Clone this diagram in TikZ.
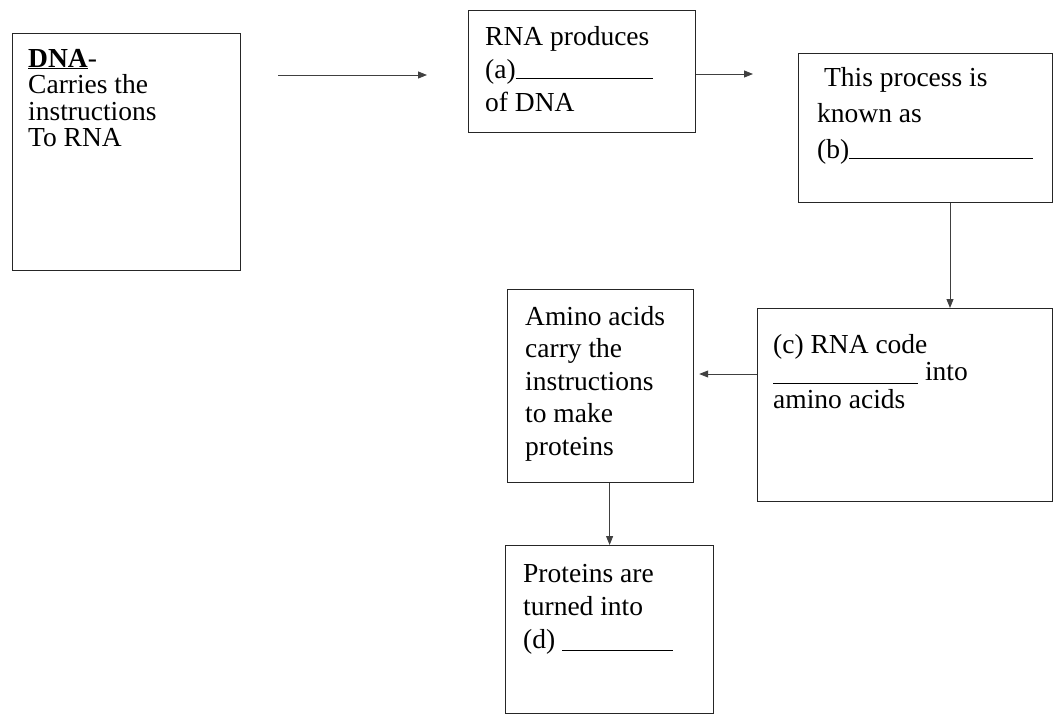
\documentclass[tikz,border=0pt]{standalone}
\usepackage{fontspec}
\setmainfont{Liberation Serif}
\usetikzlibrary{arrows.meta,calc}
\newcommand{\boxlines}[2]{\parbox[t]{260pt}{\fontsize{27.5}{#1}\selectfont\raggedright #2}}
\newcommand{\blank}[2]{\rule[#1]{#2}{0.8pt}}

\tikzset{
	box/.style={draw=black!85, line width=1.2pt, anchor=north west, inner sep=0pt},
	txt/.style={anchor=base west, inner sep=0pt},
	arr/.style={draw=black!75, line width=0.9pt, -{Triangle[length=9pt,width=7pt]}}
}

\begin{document}
\begin{tikzpicture}[x=1pt, y=-1pt]
		%%%%% START %%%%%
		\useasboundingbox (0,0) rectangle (1053,715);
		
		\node[box, minimum width=228pt, minimum height=237pt] (dna) at (12,33) {};
		\node[box, minimum width=227pt, minimum height=122pt] (rna) at (468,10) {};
		\node[box, minimum width=254pt, minimum height=149pt] (proc) at (798,53) {};
		\node[box, minimum width=295pt, minimum height=193pt] (code) at (757,308) {};
		\node[box, minimum width=186pt, minimum height=193pt] (amino) at (507,289) {};
		\node[box, minimum width=208pt, minimum height=168pt] (prot) at (505,545) {};
		
		\node[txt] (dnatxt) at ($(dna.north west)+(16,34)$) {\boxlines{26.5}{\underline{\textbf{DNA}}-\\Carries the\\instructions\\To RNA}};
		\node[txt] (rnatxt) at ($(rna.north west)+(17,35)$) {\boxlines{33}{RNA produces\\(a)\blank{-1pt}{137pt}\\of DNA}};
		\node[txt] (proctxt) at ($(proc.north west)+(19,33)$) {\boxlines{36}{\ This process is\\known as\\(b)\blank{-1pt}{184pt}}};
		\node[txt] (codetxt) at ($(code.north west)+(16,45)$) {\boxlines{27.5}{(c) RNA code\\\blank{-3pt}{145pt} into\\amino acids}};
		\node[txt] (aminotxt) at ($(amino.north west)+(18,36)$) {\boxlines{32.5}{Amino acids\\carry the\\instructions\\to make\\proteins}};
		\node[txt] (prottxt) at ($(prot.north west)+(18,37)$) {\boxlines{33}{Proteins are\\turned into\\(d) \blank{-3pt}{111pt}}};
		
		%%%%% ARROWS %%%%%
		\coordinate (dnaout) at (278,75);
		\coordinate (rnain) at (427,75);
		\draw[arr] (dnaout) -- (rnain);
		
		\coordinate (procin) at (753,74);
		\draw[arr] (rna.east |- procin) -- (procin);
		
		\coordinate (downx) at (950,0);
		\draw[arr] (proc.south -| downx) -- (code.north -| downx);
		
		\coordinate (lefty) at (0,374);
		\draw[arr, shorten >=5pt] (code.west |- lefty) -- (amino.east |- lefty);
		
		\draw[arr] (amino.south -| prot.north) -- (prot.north);
		%%%%% END %%%%%
\end{tikzpicture}
\end{document}
